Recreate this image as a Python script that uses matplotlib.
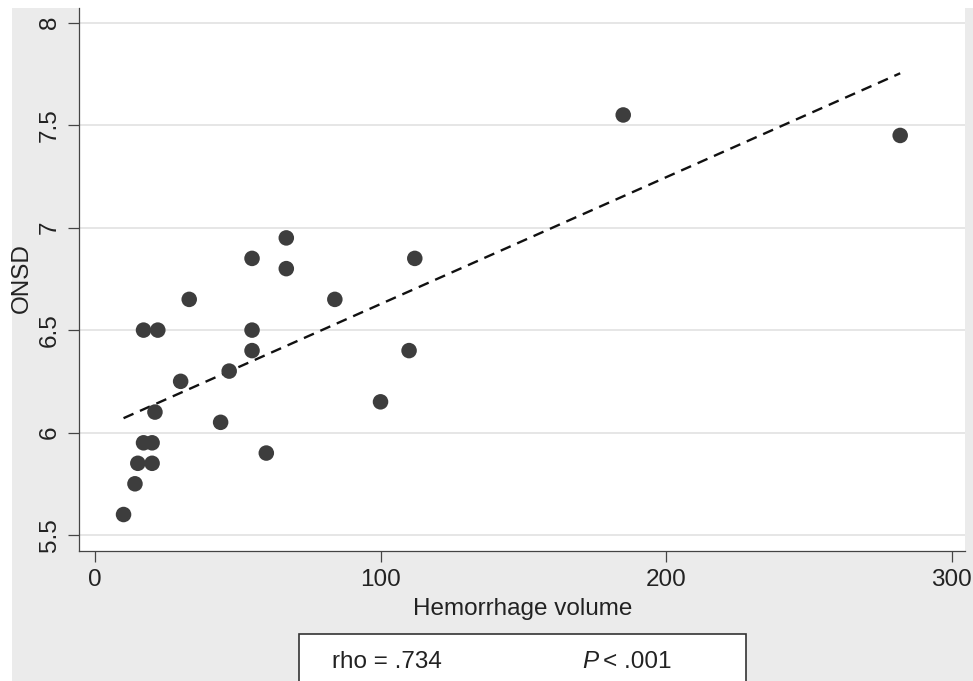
import numpy as np
import matplotlib.pyplot as plt
from matplotlib.patches import Rectangle

plt.rcParams['font.family'] = ['Liberation Sans', 'DejaVu Sans']

# values
hemorrhage_volume = [10, 14, 15, 20, 17, 20, 21, 17, 22, 30, 33, 44, 47, 55, 55, 55,
                     60, 67, 67, 84, 100, 110, 112, 185, 282]
onsd = [5.6, 5.75, 5.85, 5.85, 5.95, 5.95, 6.1, 6.5, 6.5, 6.25, 6.65, 6.05, 6.3, 6.5,
        6.4, 6.85, 5.9, 6.95, 6.8, 6.65, 6.15, 6.4, 6.85, 7.55, 7.45]
x_ticks = [0, 100, 200, 300]
y_ticks = [5.5, 6, 6.5, 7, 7.5, 8]
y_ticklabels = ["5.5", "6", "6.5", "7", "7.5", "8"]
rho_text = "rho = .734"
p_text = "< .001"

W, H = 973, 681
fig = plt.figure(figsize=(W / 100, H / 100), dpi=100, facecolor='white')
# grey Stata-like outer region, kept behind the axes
fig.patches.append(Rectangle((12 / W, 0), (973 - 12) / W, (H - 8) / H, transform=fig.transFigure,
                             facecolor='#ebebeb', edgecolor='none', zorder=-10))

ax = fig.add_axes([79 / W, (H - 551) / H, (965 - 79) / W, (551 - 8) / H])
ax.set_facecolor('white')

x = np.array(hemorrhage_volume, dtype=float)
y = np.array(onsd, dtype=float)

# linear fit (dashed)
slope, intercept = np.polyfit(x, y, 1)
xs = np.array([x.min(), x.max()])
ax.plot(xs, intercept + slope * xs, color='#111111', lw=1.7, dashes=(4.6, 3.0), zorder=3)

ax.scatter(x, y, s=125, color='#3d3d3d', edgecolors='none', zorder=4)

ax.set_xlim(-5.6, 304.7)
ax.set_ylim(5.422, 8.072)
ax.set_xticks(x_ticks)
ax.set_yticks(y_ticks)
ax.set_yticklabels(y_ticklabels, rotation=90, va='center')
for yt in y_ticks:
    ax.axhline(yt, color='#e2e2e2', lw=1.2, zorder=1)

for side in ['top', 'right']:
    ax.spines[side].set_visible(False)
for side in ['left', 'bottom']:
    ax.spines[side].set_color('#444444')
    ax.spines[side].set_linewidth(0.9)
ax.tick_params(direction='out', length=7.7, width=0.9, color='#444444',
               labelsize=17.5, labelcolor='#222222', pad=5.5)

fig.text(22 / W, (H - 278) / H, 'ONSD', rotation=90, ha='center', va='center',
         fontsize=17.5, color='#222222')
fig.text(523 / W, (H - 615) / H, 'Hemorrhage volume', ha='center', va='baseline',
         fontsize=17.5, color='#222222')

# stats box under the plot
fig.patches.append(Rectangle((299 / W, (H - 700) / H), 447 / W, 66 / H, transform=fig.transFigure,
                             facecolor='white', edgecolor='#333333', lw=1.2, zorder=2))
fig.text(332 / W, (H - 668) / H, rho_text, ha='left', va='baseline', fontsize=17.5, color='#222222')
fig.text(582 / W, (H - 668) / H, 'P', ha='left', va='baseline', fontsize=17.5,
         style='italic', color='#222222')
fig.text(603 / W, (H - 668) / H, p_text, ha='left', va='baseline', fontsize=17.5, color='#222222')

fig.savefig('out.png', dpi=100, facecolor=fig.get_facecolor())
